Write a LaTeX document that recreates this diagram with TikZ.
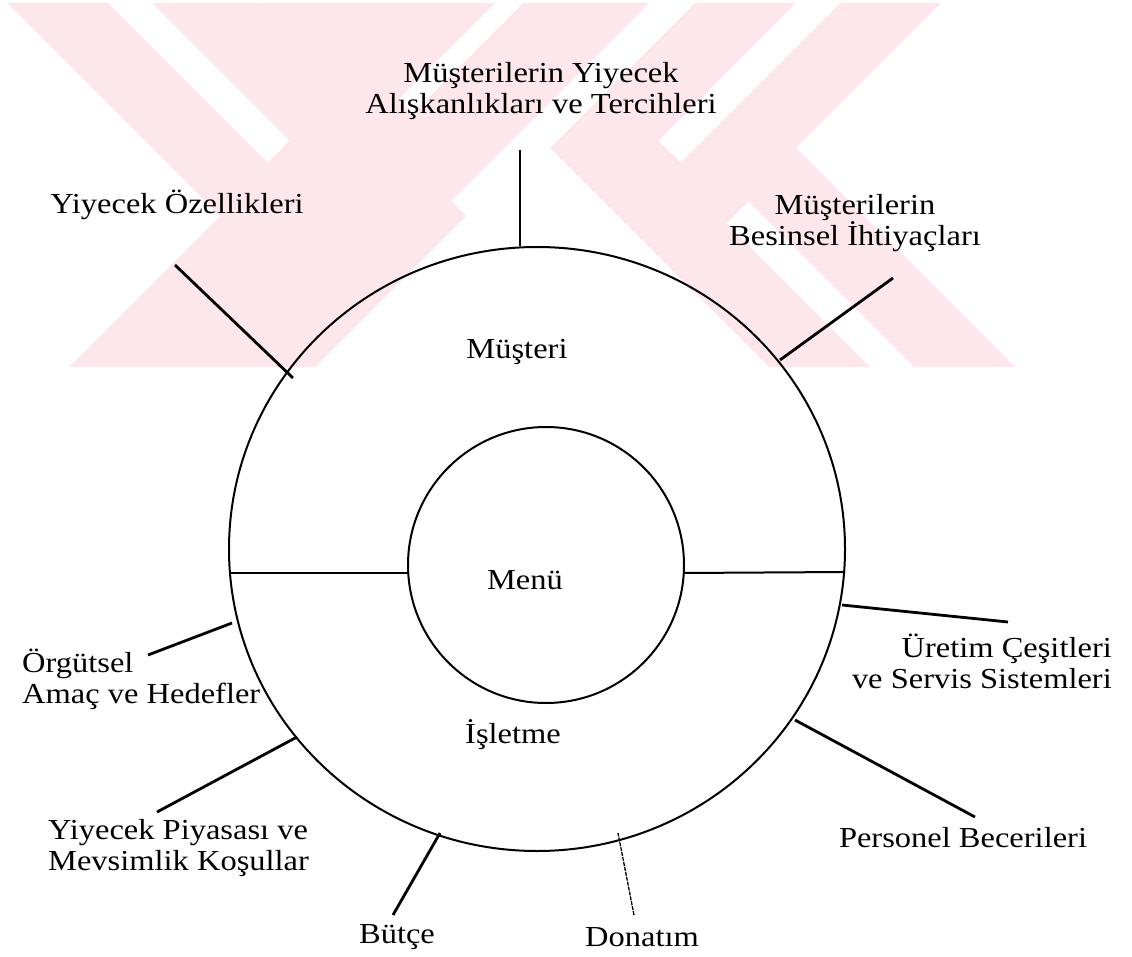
\documentclass[tikz,border=0pt]{standalone}
\usepackage{fontspec}
\setmainfont{Liberation Serif}[FakeStretch=1.12]
\usetikzlibrary{shapes.geometric}
\definecolor{wm}{RGB}{253,231,236}
\begin{document}
\begin{tikzpicture}[x=1pt,y=-1pt,
  lbl/.style={font=\fontsize{29}{31}\selectfont, inner sep=0pt, align=center},
  conn/.style={line width=2.8pt},
  ring/.style={line width=2pt}]
\useasboundingbox (0,0) rectangle (1132,957);
% watermark
\begin{scope}
\clip (0,3) rectangle (1020,367);
\fill[wm] (7,3) -- (253,3) -- (466,216) -- (315,367) -- (69,367) -- (220,216) -- cycle;
\fill[wm] (253,3) -- (649,3) -- (451,201) -- cycle;
\fill[wm] (695,3) -- (941,3) -- (796,148) -- (1015,367) -- (769,367) -- (550,148) -- cycle;
\fill[white] (108,3) -- (152,3) -- (289.5,140.5) -- (267.5,162.5) -- cycle;
\fill[white] (495,3) -- (523,3) -- (413,113) -- (399,99) -- cycle;
\fill[white] (796,3) -- (840,3) -- (680.5,162.5) -- (658.5,140.5) -- cycle;
\fill[white] (870,367) -- (914,367) -- (748.5,201.5) -- (726.5,223.5) -- cycle;
\end{scope}
% rings
\node[draw, ring, ellipse, minimum width=616pt, minimum height=604pt, inner sep=0pt] (outer) at (537,549) {};
\node[draw, ring, circle, minimum size=276pt, inner sep=0pt] (inner) at (546,565) {};
\coordinate (hl1) at (230,573); \coordinate (hl2) at (409,573);
\coordinate (hr1) at (683,573); \coordinate (hr2) at (845,572);
\draw[ring] (hl1) -- (hl2);
\draw[ring] (hr1) -- (hr2);
% inside texts
\node[lbl] (musteri) at (517,352) {Müşteri};
\node[lbl] (menu) at (525,580) {Menü};
\node[lbl] (isletme) at (513,735) {İşletme};
% labels
\node[lbl] (tercih) at (541,91) {Müşterilerin Yiyecek\\Alışkanlıkları ve Tercihleri};
\node[lbl] (ozellik) at (177,205) {Yiyecek Özellikleri};
\node[lbl] (besin) at (855,223) {Müşterilerin\\Besinsel İhtiyaçları};
\node[lbl, anchor=west, align=left] (orgut) at (22,679) {Örgütsel\\Amaç ve Hedefler};
\node[lbl, anchor=east, align=right] (uretim) at (1112,661) {Üretim Çeşitleri\\ve Servis Sistemleri};
\node[lbl] (personel) at (963,838) {Personel Becerileri};
\node[lbl, anchor=west, align=left] (piyasa) at (48,848) {Yiyecek Piyasası ve\\Mevsimlik Koşullar};
\node[lbl] (butce) at (397,937) {Bütçe};
\node[lbl] (donatim) at (642,937) {Donatım};
% connector ends
\coordinate (c1a) at (520,150); \coordinate (c1b) at (520,246);
\coordinate (c2a) at (175,265); \coordinate (c2b) at (293,378);
\coordinate (c3a) at (893,278); \coordinate (c3b) at (780,360);
\coordinate (c4a) at (148,655); \coordinate (c4b) at (232,623);
\coordinate (c5a) at (1008,622); \coordinate (c5b) at (842,605);
\coordinate (c6a) at (975,817); \coordinate (c6b) at (795,720);
\coordinate (c7a) at (157,812); \coordinate (c7b) at (297,737);
\coordinate (c8a) at (393,915); \coordinate (c8b) at (440,833);
\coordinate (c9a) at (634,915); \coordinate (c9b) at (618,833);
\draw[line width=1.5pt] (c1a) -- (c1b);
\draw[conn] (c2a) -- (c2b);
\draw[conn] (c3a) -- (c3b);
\draw[conn] (c4a) -- (c4b);
\draw[conn] (c5a) -- (c5b);
\draw[conn] (c6a) -- (c6b);
\draw[conn] (c7a) -- (c7b);
\draw[conn] (c8a) -- (c8b);
\draw[line width=1.3pt, dash pattern=on 4pt off 1pt] (c9a) -- (c9b);
\end{tikzpicture}
\end{document}
